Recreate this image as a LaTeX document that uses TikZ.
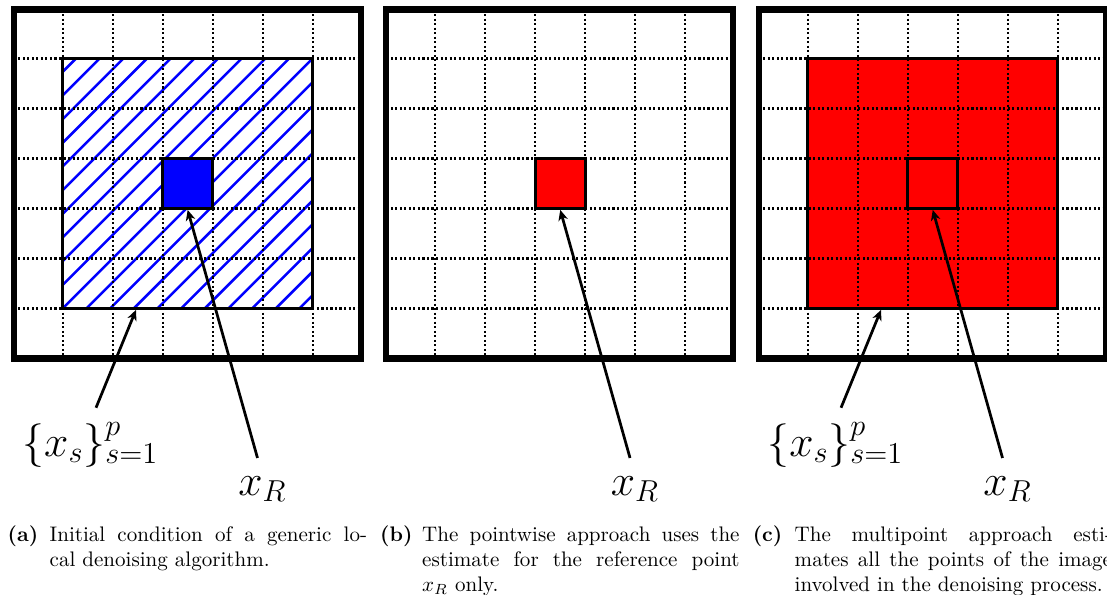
\documentclass[tikz,border=0pt]{standalone}
\usepackage{xcolor}
\usepackage{tikz}
\usetikzlibrary{arrows.meta}

\begin{document}
\begin{tikzpicture}[x=1mm,y=1mm,
  frame/.style={line width=3pt},
  griddot/.style={line width=1.1pt,dash pattern=on 1pt off 1.15pt},
  window/.style={line width=1.3pt},
  refcell/.style={line width=1.4pt},
  hatch/.style={wblue,line width=1.2pt},
  pointer/.style={-{Stealth[length=5pt,width=4.5pt,inset=1.5pt]},line width=1.3pt},
  mathlbl/.style={inner sep=0pt,anchor=base west,font=\huge},
  caplbl/.style={inner sep=0pt,anchor=base west,font=\bfseries},
  captxt/.style={inner sep=0pt,anchor=base west,text width=53mm,align=justify}]
  \definecolor{wblue}{RGB}{0,0,255}
  \definecolor{wred}{RGB}{255,0,0}
  \clip (0,0) rectangle (184.87,-99.20);
  \draw[hatch] (10.47,-11.99) -- (12.69,-9.77);
  \draw[hatch] (10.47,-15.94) -- (16.64,-9.77);
  \draw[hatch] (10.47,-19.90) -- (20.60,-9.77);
  \draw[hatch] (10.47,-23.85) -- (24.55,-9.77);
  \draw[hatch] (10.47,-27.80) -- (28.50,-9.77);
  \draw[hatch] (10.47,-31.76) -- (32.46,-9.77);
  \draw[hatch] (10.47,-35.71) -- (36.41,-9.77);
  \draw[hatch] (10.47,-39.66) -- (40.36,-9.77);
  \draw[hatch] (10.47,-43.61) -- (44.31,-9.77);
  \draw[hatch] (10.47,-47.57) -- (48.27,-9.77);
  \draw[hatch] (10.47,-51.52) -- (52.22,-9.77);
  \draw[hatch] (14.42,-51.52) -- (52.22,-13.72);
  \draw[hatch] (18.38,-51.52) -- (52.22,-17.68);
  \draw[hatch] (22.33,-51.52) -- (52.22,-21.63);
  \draw[hatch] (26.28,-51.52) -- (52.22,-25.58);
  \draw[hatch] (30.24,-51.52) -- (52.22,-29.54);
  \draw[hatch] (34.19,-51.52) -- (52.22,-33.49);
  \draw[hatch] (38.14,-51.52) -- (52.22,-37.44);
  \draw[hatch] (42.09,-51.52) -- (52.22,-41.39);
  \draw[hatch] (46.05,-51.52) -- (52.22,-45.35);
  \draw[hatch] (50.00,-51.52) -- (52.22,-49.30);
  \draw[griddot] (10.47,-1.59) -- (10.47,-59.87);
  \draw[griddot] (18.82,-1.59) -- (18.82,-59.87);
  \draw[griddot] (27.17,-1.59) -- (27.17,-59.87);
  \draw[griddot] (35.52,-1.59) -- (35.52,-59.87);
  \draw[griddot] (43.87,-1.59) -- (43.87,-59.87);
  \draw[griddot] (52.22,-1.59) -- (52.22,-59.87);
  \draw[griddot] (2.29,-9.77) -- (60.24,-9.77);
  \draw[griddot] (2.29,-18.12) -- (60.24,-18.12);
  \draw[griddot] (2.29,-26.47) -- (60.24,-26.47);
  \draw[griddot] (2.29,-34.82) -- (60.24,-34.82);
  \draw[griddot] (2.29,-43.17) -- (60.24,-43.17);
  \draw[griddot] (2.29,-51.52) -- (60.24,-51.52);
  \draw[window] (10.47,-9.77) rectangle (52.22,-51.52);
  \filldraw[refcell,fill=wblue] (27.17,-26.47) rectangle (35.52,-34.82);
  \draw[frame] (2.29,-1.59) rectangle (60.24,-59.87);
  \coordinate (tipSa) at (22.71,-51.75);
  \coordinate (tipRa) at (31.34,-35.05);
  \node[mathlbl] (lblSa) at (3.67,-76.15) {$\{x_s\}_{s=1}^{p}$};
  \node[mathlbl] (lblRa) at (39.75,-82.67) {$x_R$};
  \draw[pointer,shorten <=2.5mm] (lblSa.north) -- (tipSa);
  \draw[pointer,shorten <=3.1mm] (lblRa.north) -- (tipRa);
  \draw[griddot] (72.68,-1.59) -- (72.68,-59.87);
  \draw[griddot] (81.03,-1.59) -- (81.03,-59.87);
  \draw[griddot] (89.38,-1.59) -- (89.38,-59.87);
  \draw[griddot] (97.73,-1.59) -- (97.73,-59.87);
  \draw[griddot] (106.08,-1.59) -- (106.08,-59.87);
  \draw[griddot] (114.43,-1.59) -- (114.43,-59.87);
  \draw[griddot] (64.50,-9.77) -- (122.45,-9.77);
  \draw[griddot] (64.50,-18.12) -- (122.45,-18.12);
  \draw[griddot] (64.50,-26.47) -- (122.45,-26.47);
  \draw[griddot] (64.50,-34.82) -- (122.45,-34.82);
  \draw[griddot] (64.50,-43.17) -- (122.45,-43.17);
  \draw[griddot] (64.50,-51.52) -- (122.45,-51.52);
  \filldraw[refcell,fill=wred] (89.38,-26.47) rectangle (97.73,-34.82);
  \draw[frame] (64.50,-1.59) rectangle (122.45,-59.87);
  \coordinate (tipRb) at (93.56,-35.05);
  \node[mathlbl] (lblRb) at (101.96,-82.67) {$x_R$};
  \draw[pointer,shorten <=3.1mm] (lblRb.north) -- (tipRb);
  \fill[wred] (134.89,-9.77) rectangle (176.64,-51.52);
  \draw[griddot] (134.89,-1.59) -- (134.89,-59.87);
  \draw[griddot] (143.24,-1.59) -- (143.24,-59.87);
  \draw[griddot] (151.59,-1.59) -- (151.59,-59.87);
  \draw[griddot] (159.94,-1.59) -- (159.94,-59.87);
  \draw[griddot] (168.29,-1.59) -- (168.29,-59.87);
  \draw[griddot] (176.64,-1.59) -- (176.64,-59.87);
  \draw[griddot] (126.71,-9.77) -- (184.66,-9.77);
  \draw[griddot] (126.71,-18.12) -- (184.66,-18.12);
  \draw[griddot] (126.71,-26.47) -- (184.66,-26.47);
  \draw[griddot] (126.71,-34.82) -- (184.66,-34.82);
  \draw[griddot] (126.71,-43.17) -- (184.66,-43.17);
  \draw[griddot] (126.71,-51.52) -- (184.66,-51.52);
  \draw[window] (134.89,-9.77) rectangle (176.64,-51.52);
  \draw[refcell] (151.59,-26.47) rectangle (159.94,-34.82);
  \draw[frame] (126.71,-1.59) rectangle (184.66,-59.87);
  \coordinate (tipSc) at (147.13,-51.75);
  \coordinate (tipRc) at (155.77,-35.05);
  \node[mathlbl] (lblSc) at (128.09,-76.15) {$\{x_s\}_{s=1}^{p}$};
  \node[mathlbl] (lblRc) at (164.17,-82.67) {$x_R$};
  \draw[pointer,shorten <=2.5mm] (lblSc.north) -- (tipSc);
  \draw[pointer,shorten <=3.1mm] (lblRc.north) -- (tipRc);
  \node[caplbl] (capLa) at (1.22,-90.35) {(a)};
  \node[captxt] (capTa) at (8.23,-90.35) {Initial condition of a generic lo-\linebreak cal denoising algorithm.};
  \node[caplbl] (capLb) at (63.43,-90.35) {(b)};
  \node[captxt] (capTb) at (70.44,-90.35) {The pointwise approach uses the\linebreak estimate for the reference point\linebreak $x_R$ only.};
  \node[caplbl] (capLc) at (125.64,-90.35) {(c)};
  \node[captxt] (capTc) at (132.65,-90.35) {The multipoint approach esti-\linebreak mates all the points of the image\linebreak involved in the denoising process.};
\end{tikzpicture}
\end{document}
